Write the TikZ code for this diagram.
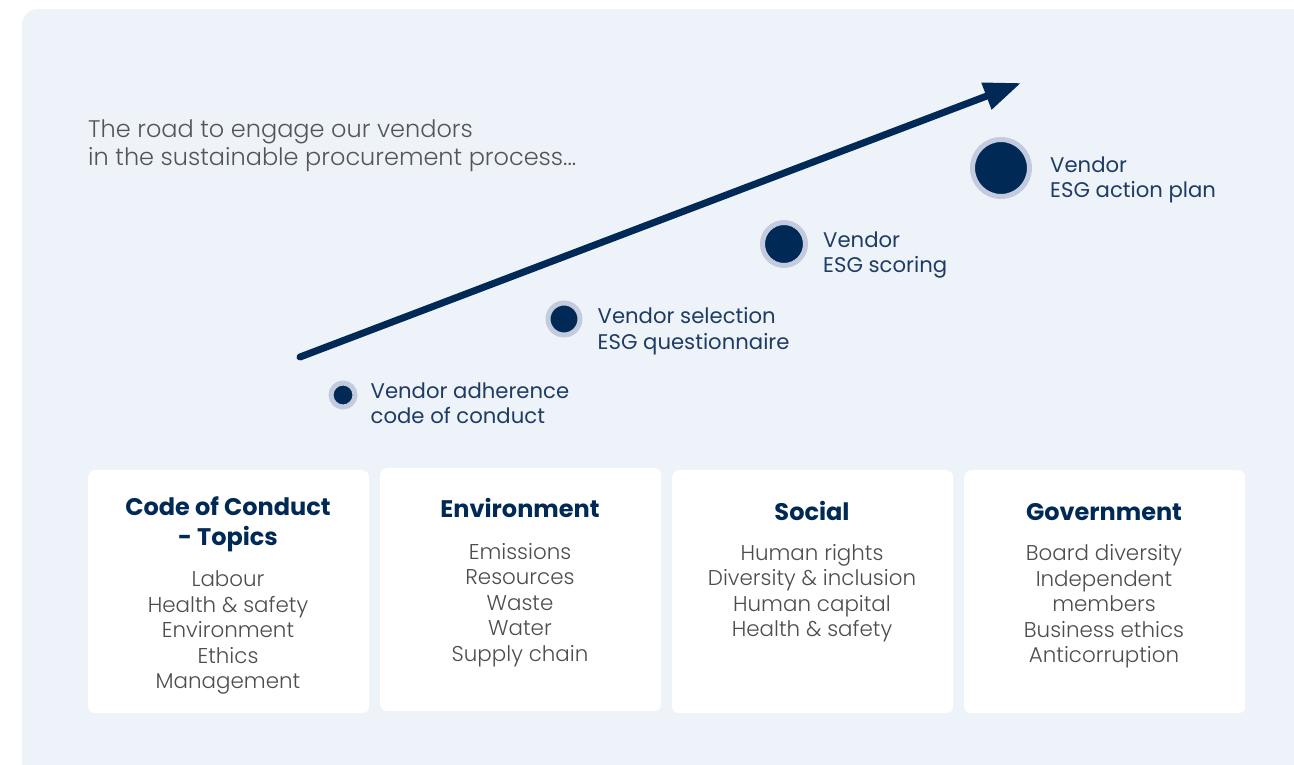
\documentclass[tikz,border=0pt]{standalone}
\usepackage{fontspec}
\setmainfont{Poppins}
\newfontfamily\poplight{Poppins Light}
\usetikzlibrary{positioning, arrows.meta}

\definecolor{navy}{HTML}{002A55}
\definecolor{ringblue}{HTML}{C3CBDF}
\definecolor{panelblue}{HTML}{EEF3FA}
\definecolor{labelblue}{HTML}{1F3C64}
\definecolor{itemgray}{HTML}{4D4D4D}
\definecolor{titlegray}{HTML}{555555}

\begin{document}
\begin{tikzpicture}[x=1pt, y=-1pt,
    stage/.style={circle, draw=ringblue, line width=5pt, fill=navy, inner sep=0pt},
    stagetext/.style={anchor=west, align=left, inner sep=0pt, text=labelblue, font=\fontsize{21.2}{25.5}\selectfont},
    card/.style={rectangle, rounded corners=7pt, fill=white, minimum width=281pt, minimum height=243pt, anchor=north west},
    cardtitle/.style={align=center, inner sep=0pt, text=navy, font=\bfseries\fontsize{24}{30}\selectfont},
    cardtext/.style={align=center, inner sep=0pt, text=itemgray, font=\poplight\fontsize{21.4}{25.5}\selectfont},
    road/.style={navy, line width=7pt, line cap=round, -{Triangle[length=37pt, width=27pt]}}
]

\useasboundingbox (0,0) rectangle (1294,764);
\fill[panelblue, rounded corners=16pt] (22,9) rectangle (1330,800);

\node[anchor=north west, align=left, inner sep=0pt, text=titlegray, font=\poplight\fontsize{24}{28.4}\selectfont] (intro) at (88,119.5) {The road to engage our vendors\\in the sustainable procurement process...};

% road arrow
\coordinate (roadStart) at (300,357);
\coordinate (roadEnd) at (1021,83);
\draw[road] (roadStart) -- (roadEnd);

% stages
\node[stage, minimum size=24pt] (adherence) at (343,395) {};
\node[stage, minimum size=32pt] (selection) at (564,319) {};
\node[stage, minimum size=43pt] (scoring) at (784,244) {};
\node[stage, minimum size=57pt] (actionPlan) at (1001,168) {};

\node[stagetext, right=13pt of adherence, yshift=-8pt] {Vendor adherence\\code of conduct};
\node[stagetext, right=15pt of selection, yshift=-12pt] {Vendor selection\\ESG questionnaire};
\node[stagetext, right=15pt of scoring, yshift=-11pt] {Vendor\\ESG scoring};
\node[stagetext, right=18pt of actionPlan, yshift=-12pt] {Vendor\\ESG action plan};

% topic cards
\node[card] (cocCard) at (88,470) {};
\node[card] (envCard) at (380,468) {};
\node[card] (socCard) at (672,470) {};
\node[card] (govCard) at (964,470) {};

\node[cardtitle, anchor=north] (cocTitle) at (228,496) {Code of Conduct\\- Topics};
\node[cardtitle, anchor=north] (envTitle) at (520,498) {Environment};
\node[cardtitle, anchor=north] (socTitle) at (812,501) {Social};
\node[cardtitle, anchor=north] (govTitle) at (1104,503) {Government};

\node[cardtext, below=19pt of cocTitle] (cocItems) {Labour\\Health \& safety\\Environment\\Ethics\\Management};
\node[cardtext, below=25pt of envTitle] (envItems) {Emissions\\Resources\\Waste\\Water\\Supply chain};
\node[cardtext, below=23pt of socTitle] (socItems) {Human rights\\Diversity \& inclusion\\Human capital\\Health \& safety};
\node[cardtext, below=24pt of govTitle] (govItems) {Board diversity\\Independent\\members\\Business ethics\\Anticorruption};

\end{tikzpicture}
\end{document}
